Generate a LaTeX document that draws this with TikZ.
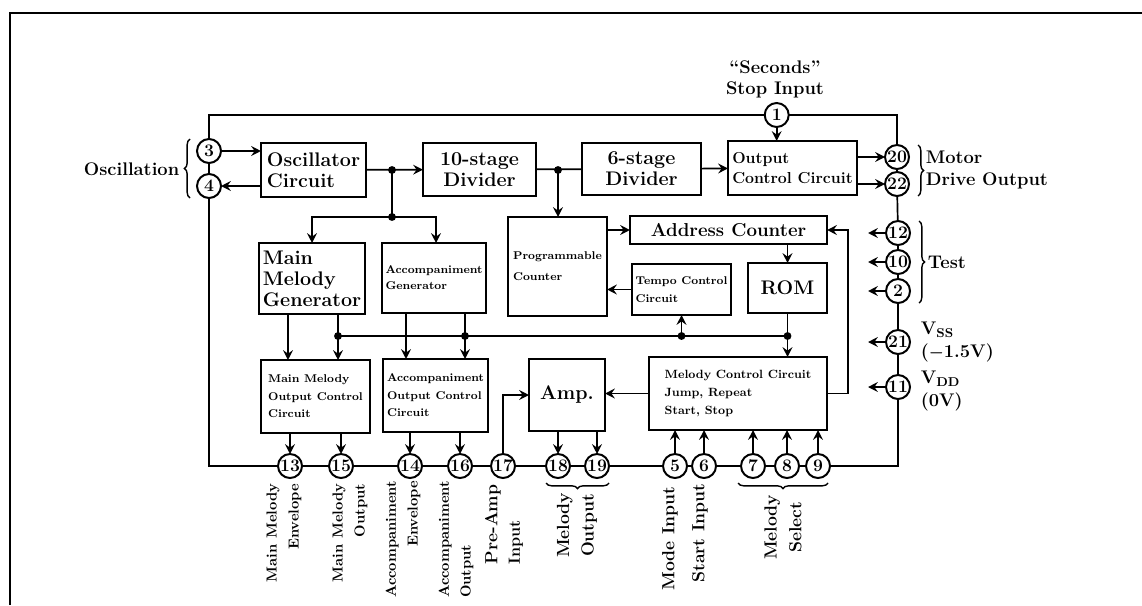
\documentclass[tikz,border=0pt]{standalone}
\usepackage{amsmath}
\usetikzlibrary{positioning, calc, arrows.meta, decorations.pathreplacing}

\begin{document}
\begin{tikzpicture}[
  x=0.025cm, y=-0.025cm,
  every node/.append style={inner sep=2pt, outer sep=0pt},
  blk/.style ={draw, line width=1.8pt, align=left,   font=\fontsize{14}{15}\selectfont\bfseries},
  sblk/.style={draw, line width=1.8pt, align=left,   font=\fontsize{8}{12.5}\selectfont\bfseries},
  pin/.style ={draw, circle, line width=1.4pt, minimum size=0.6cm, inner sep=-3pt, font=\fontsize{12.5}{12.5}\selectfont\bfseries},
  wire/.style={line width=1.2pt},
  arr/.style ={-{Stealth[length=7pt, width=7pt, inset=2.5pt]}, line width=1.2pt},
  brc/.style ={decorate, decoration={brace, amplitude=4pt}, line width=1pt},
  lbl/.style ={font=\fontsize{13}{15}\selectfont\bfseries\boldmath, align=left},
  vlbl/.style={rotate=90, font=\fontsize{10.3}{15.5}\selectfont\bfseries},
  blbl/.style={rotate=90, font=\fontsize{12.5}{17.5}\selectfont\bfseries},
  frm/.style ={line width=1.4pt},
]
\useasboundingbox (0,0) rectangle (1142,605);

%% ─── frame ───────────────────────────────────────────────────────────────
\draw[frm] (10,605) -- (10,13) -- (1142,13);

%% ─── blocks: top row ─────────────────────────────────────────────────────
\node[blk, minimum width=2.625cm, minimum height=1.35cm]  (osc)   at (313.5,170) {Oscillator\\Circuit};
\node[blk, align=center, minimum width=2.825cm, minimum height=1.325cm] (div10) at (479.5,169.5) {10-stage\\Divider};
\node[blk, align=center, minimum width=2.975cm, minimum height=1.3cm]   (div6)  at (641.5,169) {6-stage\\Divider};
\node[blk, font=\fontsize{11.3}{14}\selectfont\bfseries, minimum width=3.225cm, minimum height=1.35cm] (outc) at (792.5,168) {Output\\Control Circuit};

%% ─── blocks: middle row ──────────────────────────────────────────────────
\node[blk, font=\fontsize{13.3}{15}\selectfont\bfseries, minimum width=4.925cm, minimum height=0.7cm] (addr) at (728.5,230) {Address Counter};
\node[sblk, font=\fontsize{8}{15}\selectfont\bfseries, minimum width=2.475cm, minimum height=2.475cm] (prog) at (557.5,266.5) {Programmable\\Counter};
\node[sblk, minimum width=2.475cm, minimum height=1.275cm] (tempo) at (681.5,289.5) {Tempo Control\\Circuit};
\node[blk, minimum width=1.975cm, minimum height=1.25cm]   (rom)   at (787.5,288) {ROM};
\node[blk, minimum width=2.65cm, minimum height=1.775cm]   (mmg)   at (312,278.5) {Main\\Melody\\Generator};
\node[sblk, font=\fontsize{8}{11.5}\selectfont\bfseries, minimum width=2.6cm, minimum height=1.75cm] (acg) at (434,278) {Accompaniment\\Generator};

%% ─── blocks: bottom row ──────────────────────────────────────────────────
\node[sblk, minimum width=2.725cm, minimum height=1.825cm] (mmoc) at (315.5,396.5) {Main Melody\\Output Control\\Circuit};
\node[sblk, minimum width=2.625cm, minimum height=1.825cm] (acoc) at (435.5,395.5) {Accompaniment\\Output Control\\Circuit};
\node[blk, minimum width=1.9cm, minimum height=1.8cm]      (amp)  at (567,395) {Amp.};
\node[sblk, font=\fontsize{8.5}{13}\selectfont\bfseries, minimum width=4.45cm, minimum height=1.825cm] (mcc) at (738,393.5) {Melody Control Circuit\\Jump, Repeat\\Start, Stop};

%% ─── pins ────────────────────────────────────────────────────────────────
\node[pin] (p1)  at (776.7,115) {1};
\node[pin] (p3)  at (209,151) {3};
\node[pin] (p4)  at (209,186) {4};
\node[pin] (p20) at (897,157) {20};
\node[pin] (p22) at (897,184) {22};
\node[pin] (p12) at (898,233) {12};
\node[pin] (p10) at (898,262) {10};
\node[pin] (p2)  at (898,291) {2};
\node[pin] (p21) at (898,342) {21};
\node[pin] (p11) at (898,387) {11};
\node[pin] (p13) at (290,466) {13};
\node[pin] (p15) at (341,466) {15};
\node[pin] (p14) at (410,466) {14};
\node[pin] (p16) at (460,466) {16};
\node[pin] (p17) at (503,466) {17};
\node[pin] (p18) at (558,466) {18};
\node[pin] (p19) at (597,466) {19};
\node[pin] (p5)  at (675,466) {5};
\node[pin] (p6)  at (704,466) {6};
\node[pin] (p7)  at (753,466) {7};
\node[pin] (p8)  at (787,466) {8};
\node[pin] (p9)  at (818,466) {9};

%% ─── outer ring of pin wiring ────────────────────────────────────────────
\draw[wire] (p3) |- (p1);
\draw[wire] (p1) -| (p20);
\draw[wire] (p3) -- (p4);
\draw[wire] (p4) |- (p13);
\draw[wire] (p13) -- (p15);
\draw[wire] (p15) -- (p14);
\draw[wire] (p14) -- (p16);
\draw[wire] (p16) -- (p17);
\draw[wire] (p17) -- (p18);
\draw[wire] (p18) -- (p19);
\draw[wire] (p19) -- (p5);
\draw[wire] (p5) -- (p6);
\draw[wire] (p6) -- (p7);
\draw[wire] (p7) -- (p8);
\draw[wire] (p8) -- (p9);
\draw[wire] (p9) -| (p11);
\draw[wire] (p11) -- (p21);
\draw[wire] (p21) -- (p2);
\draw[wire] (p2) -- (p10);
\draw[wire] (p10) -- (p12);
\draw[wire] (p12) -- (p22);
\draw[wire] (p22) -- (p20);

%% ─── clock chain ─────────────────────────────────────────────────────────
\draw[arr] (p3) -- (osc.west |- p3);
\draw[arr] (osc.west |- p4) -- (p4);
\coordinate (j1) at (392,170);
\coordinate (j2) at (392,217);
\coordinate (j3) at (558,170);
\draw[arr] (osc) -- (div10);
\draw[wire] (j1) -- (j2);
\draw[arr] (j2) -| (mmg);
\draw[arr] (j2) -| ([xshift=0.05cm]acg.north);
\draw[wire] (div10) -- (div6);
\draw[arr] (j3) -- (prog.north -| j3);
\draw[arr] (div6) -- (outc);
\draw[arr] (p1) -- (outc.north -| p1);
\draw[arr] (outc.east |- p20) -- (p20);
\draw[arr] (outc.east |- p22) -- (p22);

%% ─── melody sequencing ───────────────────────────────────────────────────
\draw[arr] (prog.east |- addr) -- (addr);
\draw[arr] (addr.south -| rom) -- (rom);
\draw[arr] (tempo) -- (tempo -| prog.east);
\draw[arr] (mcc.east) -- ++(21,0) |- (addr.east);
\draw[arr] (p12.west) -- ++(-18,0);
\draw[arr] (p10.west) -- ++(-18,0);
\draw[arr] (p2.west)  -- ++(-18,0);
\draw[arr] (p21.west) -- ++(-18,0);
\draw[arr] (p11.west) -- ++(-18,0);

%% ─── control bus ─────────────────────────────────────────────────────────
\coordinate (jm) at (338,336);
\coordinate (ja) at (465,336);
\coordinate (jt) at (681.5,336);
\coordinate (jr) at (787.5,336);
\draw[wire] (jm) -- (jr);
\draw[arr] (rom) -- (mcc.north -| rom);
\draw[arr] (jt) -- (tempo);
\draw[arr] ([xshift=-0.6cm]mmg.south) -- ([xshift=-0.6cm]mmg.south |- mmoc.north);
\draw[arr] (mmg.south -| jm) -- (mmoc.north -| jm);
\draw[arr] ([xshift=-0.7cm]acg.south) -- ([xshift=-0.7cm]acg.south |- acoc.north);
\draw[arr] (acg.south -| ja) -- (acoc.north -| ja);
\foreach \j in {j1, j3, j2, jm, ja, jt, jr} \fill (\j) circle (2.8pt);

%% ─── outputs and inputs on the bottom pins ───────────────────────────────
\draw[arr] (mmoc.south -| p13) -- (p13);
\draw[arr] (mmoc.south -| p15) -- (p15);
\draw[arr] (acoc.south -| p14) -- (p14);
\draw[arr] (acoc.south -| p16) -- (p16);
\draw[arr] (p17) |- (amp.west);
\draw[arr] (amp.south -| p18) -- (p18);
\draw[arr] (amp.south -| p19) -- (p19);
\draw[arr] (mcc.west) -- (mcc.west -| amp.east);
\draw[arr] (p5) -- (mcc.south -| p5);
\draw[arr] (p6) -- (mcc.south -| p6);
\draw[arr] (p7) -- (mcc.south -| p7);
\draw[arr] (p8) -- (mcc.south -| p8);
\draw[arr] (p9) -- (mcc.south -| p9);

%% ─── side labels ─────────────────────────────────────────────────────────
\draw[brc] ($(p4.south)+(-19,0)$) -- ($(p3.north)+(-19,0)$);
\node[lbl, anchor=east] (osclbl) at (182,169) {Oscillation};
\node[lbl, align=center] (seclbl) at (775,79) {``Seconds''\\Stop Input};
\draw[brc] ($(p20.north)+(21,0)$) -- ($(p22.south)+(21,0)$);
\node[lbl, anchor=west] (motlbl) at (923,170) {Motor\\Drive Output};
\draw[brc] ($(p12.north)+(21,0)$) -- ($(p2.south)+(21,0)$);
\node[lbl, anchor=west] (tstlbl) at (925,262) {Test};
\node[lbl, anchor=west, font=\fontsize{13}{16}\selectfont\bfseries\boldmath] (vsslbl) at (918,342) {V\textsubscript{SS}\\($-$1.5V)};
\node[lbl, anchor=west, font=\fontsize{13}{16}\selectfont\bfseries\boldmath] (vddlbl) at (918,391) {V\textsubscript{DD}\\(0V)};

%% ─── bottom labels ───────────────────────────────────────────────────────
\node[vlbl, anchor=east, align=right] (l13) at (284,481) {Main Melody\\Envelope};
\node[vlbl, anchor=east, align=right] (l15) at (350,481) {Main Melody\\Output};
\node[vlbl, anchor=east, align=right] (l14) at (403,478) {Accompaniment\\Envelope};
\node[vlbl, anchor=east, align=left]  (l16) at (456,478) {Accompaniment\\Output};
\node[vlbl, anchor=west, align=left, font=\fontsize{11.5}{16}\selectfont\bfseries] (l17) at (504,567) {{\fontsize{12.5}{15}\selectfont Pre-Amp}\\Input};
\draw[brc] ($(p19.south)+(12,5)$) -- ($(p18.south)+(-12,5)$);
\node[blbl, anchor=east, align=center] (l18) at (577,490) {Melody\\Output};
\node[blbl, anchor=east] (l5) at (670,484) {Mode Input};
\node[blbl, anchor=east] (l6) at (700,481) {Start Input};
\draw[brc] ($(p9.south)+(10,5)$) -- ($(p7.south)+(-15,5)$);
\node[blbl, anchor=east, align=center] (l7) at (783,492) {Melody\\Select};

\end{tikzpicture}
\end{document}
